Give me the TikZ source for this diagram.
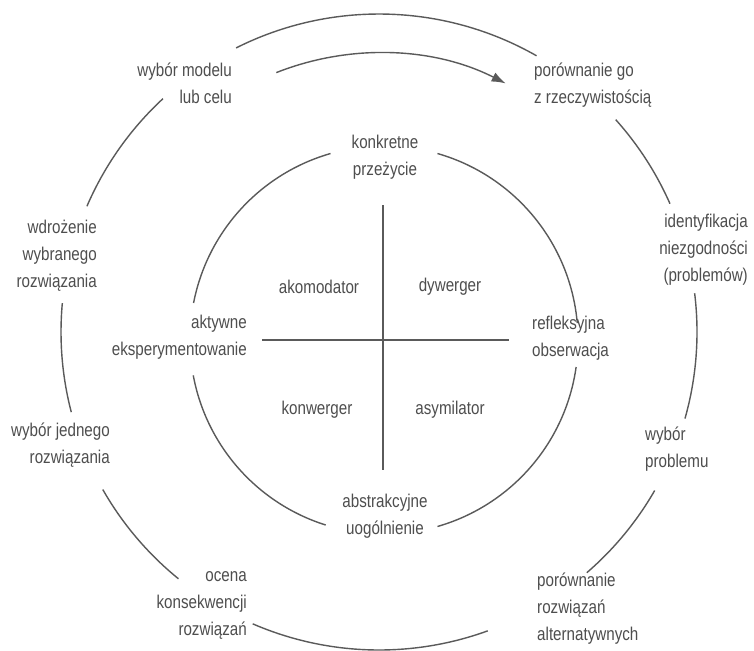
\documentclass[tikz,border=0pt]{standalone}
\usepackage{fontspec}
\setmainfont{Liberation Sans}[FakeStretch=0.82]
\usepackage{xcolor}
\usetikzlibrary{arrows.meta}
\definecolor{inkgray}{HTML}{4E4E4E}
\definecolor{linegray}{HTML}{5A5A5A}
\newcommand{\lblfont}{\fontsize{18.5}{27}\selectfont}
\tikzset{
  ring/.style={draw=linegray, line width=1.4pt},
  cross/.style={draw=linegray, line width=1.2pt},
  lbl/.style={text=inkgray, font=\lblfont, inner sep=0pt},
}

\begin{document}
\begin{tikzpicture}[x=1pt,y=1pt]
\useasboundingbox[fill=white] (0,0) rectangle (754,-650);
\coordinate (outer) at (379,-332);
\coordinate (inner) at (384,-340);

% outer cycle
\foreach \a/\b in {116.7/60.3, 41.9/23.8, 7/-15.8, -29.9/-49.2, -70/-113.4,
                   -129.1/-150.3, -165.4/-185.2, -203.3/-227.2}
  \draw[ring] ([shift={(\a:318pt)}]outer) arc[start angle=\a, end angle=\b, radius=318pt];
\draw[ring, -{Latex[length=14pt,width=10pt]}] ([shift={(111.6:279pt)}]outer)
  arc[start angle=111.6, end angle=63, radius=279pt];

% inner circle
\foreach \a/\b in {5/74, 106/169, 190.5/252.5, 286/352}
  \draw[ring] ([shift={(\a:194pt)}]inner) arc[start angle=\a, end angle=\b, radius=194pt];

% cross
\coordinate (vtop) at (383,-205);
\coordinate (vbot) at (383,-470);
\coordinate (hleft) at (262,-340);
\coordinate (hright) at (509,-340);
\draw[cross] (vtop) -- (vbot);
\draw[cross] (hleft) -- (hright);

% outer labels
\node[lbl, anchor=east, align=right] (model) at (232,-83) {wybór modelu\\lub celu};
\node[lbl, anchor=west, align=left] (compare) at (534,-85) {porównanie go\\z rzeczywistością};
\node[lbl, anchor=east, align=right] (identify) at (748,-250) {identyfikacja\\niezgodności\\(problemów)};
\node[lbl, anchor=west, align=left] (problem) at (645,-449) {wybór\\problemu};
\node[lbl, anchor=west, align=left] (alternatives) at (537,-609) {porównanie\\rozwiązań\\alternatywnych};
\node[lbl, anchor=east, align=right] (evaluate) at (247,-605) {ocena\\konsekwencji\\rozwiązań};
\node[lbl, anchor=east, align=right] (single) at (110,-445) {wybór jednego\\rozwiązania};
\node[lbl, anchor=east, align=right] (deploy) at (97,-256) {wdrożenie\\wybranego\\rozwiązania};

% inner labels
\node[lbl, align=center] (concrete) at (385,-157) {konkretne\\przeżycie};
\node[lbl, anchor=west, align=left] (reflective) at (532,-338) {refleksyjna\\obserwacja};
\node[lbl, align=center] (abstract) at (385,-516) {abstrakcyjne\\uogólnienie};
\node[lbl, anchor=east, align=right] (active) at (247,-337) {aktywne\\eksperymentowanie};

% quadrants
\node[lbl] (akom) at (319,-287) {akomodator};
\node[lbl] (dyw) at (450,-287) {dywerger};
\node[lbl] (konw) at (317,-410) {konwerger};
\node[lbl] (asym) at (450,-410) {asymilator};
\end{tikzpicture}
\end{document}
